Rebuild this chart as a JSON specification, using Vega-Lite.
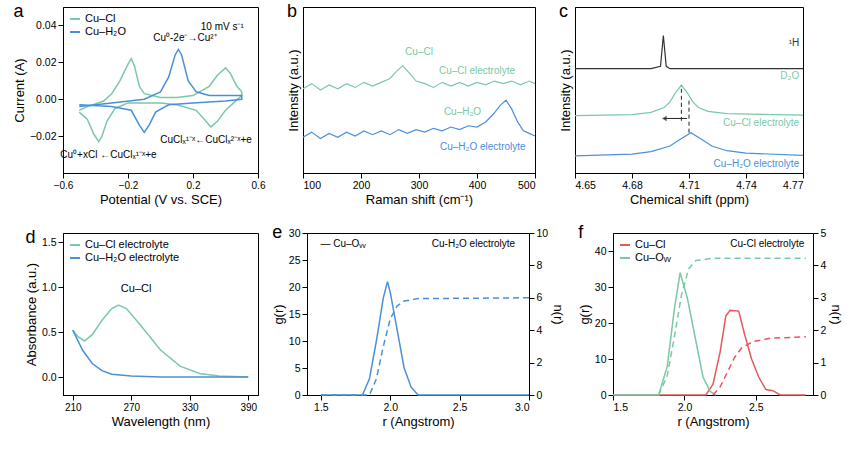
{
  "$schema": "https://vega.github.io/schema/vega-lite/v6.json",
  "background": "white",
  "padding": {"left": 12, "top": 2, "right": 5, "bottom": 0},
  "resolve": {"scale": {"color": "independent"}},
  "config": {
    "font": "Liberation Sans",
    "view": {"stroke": "black", "strokeWidth": 1},
    "axis": {"grid": false, "domainColor": "black", "tickColor": "black", "labelColor": "black", "titleColor": "black", "labelFontSize": 10.5, "titleFontSize": 13, "titleFontWeight": "normal", "titlePadding": 3},
    "title": {"anchor": "start", "frame": "bounds", "fontSize": 18, "fontWeight": "normal", "offset": -14},
    "text": {"font": "Liberation Sans", "fontSize": 10}
  },
  "datasets": {
    "cv": [
      {"s":"Cu–Cl","i":1,"x":-0.5,"y":-0.006},{"s":"Cu–Cl","i":2,"x":-0.45,"y":-0.004},{"s":"Cu–Cl","i":3,"x":-0.35,"y":-0.001},{"s":"Cu–Cl","i":4,"x":-0.3,"y":0.003},{"s":"Cu–Cl","i":5,"x":-0.25,"y":0.01},{"s":"Cu–Cl","i":6,"x":-0.2,"y":0.019},{"s":"Cu–Cl","i":7,"x":-0.18,"y":0.022},{"s":"Cu–Cl","i":8,"x":-0.16,"y":0.018},{"s":"Cu–Cl","i":9,"x":-0.13,"y":0.007},{"s":"Cu–Cl","i":10,"x":-0.1,"y":0.003},{"s":"Cu–Cl","i":11,"x":0,"y":0.001},{"s":"Cu–Cl","i":12,"x":0.1,"y":0.001},{"s":"Cu–Cl","i":13,"x":0.2,"y":0.002},{"s":"Cu–Cl","i":14,"x":0.3,"y":0.007},{"s":"Cu–Cl","i":15,"x":0.35,"y":0.013},{"s":"Cu–Cl","i":16,"x":0.4,"y":0.017},{"s":"Cu–Cl","i":17,"x":0.43,"y":0.014},{"s":"Cu–Cl","i":18,"x":0.47,"y":0.007},{"s":"Cu–Cl","i":19,"x":0.5,"y":0.004},
      {"s":"Cu–Cl","i":20,"x":0.5,"y":0.002},{"s":"Cu–Cl","i":21,"x":0.45,"y":-0.002},{"s":"Cu–Cl","i":22,"x":0.4,"y":-0.006},{"s":"Cu–Cl","i":23,"x":0.35,"y":-0.012},{"s":"Cu–Cl","i":24,"x":0.31,"y":-0.015},{"s":"Cu–Cl","i":25,"x":0.28,"y":-0.012},{"s":"Cu–Cl","i":26,"x":0.22,"y":-0.006},{"s":"Cu–Cl","i":27,"x":0.1,"y":-0.003},{"s":"Cu–Cl","i":28,"x":0,"y":-0.002},{"s":"Cu–Cl","i":29,"x":-0.2,"y":-0.002},{"s":"Cu–Cl","i":30,"x":-0.28,"y":-0.005},{"s":"Cu–Cl","i":31,"x":-0.33,"y":-0.012},{"s":"Cu–Cl","i":32,"x":-0.36,"y":-0.02},{"s":"Cu–Cl","i":33,"x":-0.38,"y":-0.023},{"s":"Cu–Cl","i":34,"x":-0.41,"y":-0.019},{"s":"Cu–Cl","i":35,"x":-0.45,"y":-0.011},{"s":"Cu–Cl","i":36,"x":-0.5,"y":-0.007},
      {"s":"Cu–H₂O","i":1,"x":-0.5,"y":-0.004},{"s":"Cu–H₂O","i":2,"x":-0.3,"y":-0.002},{"s":"Cu–H₂O","i":3,"x":-0.1,"y":0.0},{"s":"Cu–H₂O","i":4,"x":0,"y":0.004},{"s":"Cu–H₂O","i":5,"x":0.05,"y":0.012},{"s":"Cu–H₂O","i":6,"x":0.09,"y":0.024},{"s":"Cu–H₂O","i":7,"x":0.11,"y":0.027},{"s":"Cu–H₂O","i":8,"x":0.13,"y":0.024},{"s":"Cu–H₂O","i":9,"x":0.17,"y":0.01},{"s":"Cu–H₂O","i":10,"x":0.22,"y":0.004},{"s":"Cu–H₂O","i":11,"x":0.3,"y":0.002},{"s":"Cu–H₂O","i":12,"x":0.5,"y":0.002},{"s":"Cu–H₂O","i":13,"x":0.5,"y":0.0},{"s":"Cu–H₂O","i":14,"x":0.4,"y":-0.001},{"s":"Cu–H₂O","i":15,"x":0.2,"y":-0.002},{"s":"Cu–H₂O","i":16,"x":0.05,"y":-0.003},{"s":"Cu–H₂O","i":17,"x":-0.03,"y":-0.007},{"s":"Cu–H₂O","i":18,"x":-0.07,"y":-0.014},{"s":"Cu–H₂O","i":19,"x":-0.1,"y":-0.018},{"s":"Cu–H₂O","i":20,"x":-0.13,"y":-0.014},{"s":"Cu–H₂O","i":21,"x":-0.18,"y":-0.006},{"s":"Cu–H₂O","i":22,"x":-0.3,"y":-0.004},{"s":"Cu–H₂O","i":23,"x":-0.5,"y":-0.003}
    ],
    "raman": [
      {"s":"Cl","x":100,"y":0.66},{"s":"Cl","x":115,"y":0.7},{"s":"Cl","x":130,"y":0.65},{"s":"Cl","x":145,"y":0.69},{"s":"Cl","x":160,"y":0.66},{"s":"Cl","x":175,"y":0.7},{"s":"Cl","x":190,"y":0.67},{"s":"Cl","x":205,"y":0.71},{"s":"Cl","x":220,"y":0.68},{"s":"Cl","x":235,"y":0.71},{"s":"Cl","x":250,"y":0.74},{"s":"Cl","x":262,"y":0.8},{"s":"Cl","x":272,"y":0.84},{"s":"Cl","x":282,"y":0.79},{"s":"Cl","x":295,"y":0.72},{"s":"Cl","x":310,"y":0.7},{"s":"Cl","x":325,"y":0.67},{"s":"Cl","x":340,"y":0.71},{"s":"Cl","x":355,"y":0.68},{"s":"Cl","x":370,"y":0.71},{"s":"Cl","x":385,"y":0.68},{"s":"Cl","x":400,"y":0.71},{"s":"Cl","x":415,"y":0.69},{"s":"Cl","x":430,"y":0.72},{"s":"Cl","x":445,"y":0.7},{"s":"Cl","x":460,"y":0.72},{"s":"Cl","x":475,"y":0.69},{"s":"Cl","x":490,"y":0.72},{"s":"Cl","x":500,"y":0.7},
      {"s":"H","x":100,"y":0.28},{"s":"H","x":115,"y":0.32},{"s":"H","x":130,"y":0.27},{"s":"H","x":145,"y":0.31},{"s":"H","x":160,"y":0.28},{"s":"H","x":175,"y":0.32},{"s":"H","x":190,"y":0.29},{"s":"H","x":205,"y":0.33},{"s":"H","x":220,"y":0.3},{"s":"H","x":235,"y":0.33},{"s":"H","x":250,"y":0.3},{"s":"H","x":265,"y":0.34},{"s":"H","x":280,"y":0.31},{"s":"H","x":295,"y":0.34},{"s":"H","x":310,"y":0.32},{"s":"H","x":325,"y":0.35},{"s":"H","x":340,"y":0.33},{"s":"H","x":355,"y":0.36},{"s":"H","x":370,"y":0.34},{"s":"H","x":385,"y":0.37},{"s":"H","x":400,"y":0.36},{"s":"H","x":415,"y":0.4},{"s":"H","x":428,"y":0.46},{"s":"H","x":440,"y":0.53},{"s":"H","x":450,"y":0.57},{"s":"H","x":460,"y":0.5},{"s":"H","x":470,"y":0.4},{"s":"H","x":480,"y":0.33},{"s":"H","x":490,"y":0.31},{"s":"H","x":500,"y":0.29}
    ],
    "nmr": [
      {"s":"1H","x":4.65,"y":2.2},{"s":"1H","x":4.69,"y":2.2},{"s":"1H","x":4.695,"y":2.25},{"s":"1H","x":4.6965,"y":2.9},{"s":"1H","x":4.698,"y":2.25},{"s":"1H","x":4.70,"y":2.2},{"s":"1H","x":4.77,"y":2.2},
      {"s":"Cl","x":4.65,"y":1.21},{"s":"Cl","x":4.68,"y":1.23},{"s":"Cl","x":4.69,"y":1.28},{"s":"Cl","x":4.697,"y":1.38},{"s":"Cl","x":4.7,"y":1.5},{"s":"Cl","x":4.703,"y":1.7},{"s":"Cl","x":4.706,"y":1.85},{"s":"Cl","x":4.709,"y":1.7},{"s":"Cl","x":4.712,"y":1.5},{"s":"Cl","x":4.715,"y":1.38},{"s":"Cl","x":4.72,"y":1.3},{"s":"Cl","x":4.73,"y":1.25},{"s":"Cl","x":4.77,"y":1.22},
      {"s":"H","x":4.65,"y":0.36},{"s":"H","x":4.68,"y":0.4},{"s":"H","x":4.69,"y":0.45},{"s":"H","x":4.7,"y":0.57},{"s":"H","x":4.705,"y":0.7},{"s":"H","x":4.711,"y":0.85},{"s":"H","x":4.717,"y":0.7},{"s":"H","x":4.722,"y":0.57},{"s":"H","x":4.73,"y":0.47},{"s":"H","x":4.74,"y":0.42},{"s":"H","x":4.77,"y":0.37}
    ],
    "abs": [
      {"s":"Cu–Cl electrolyte","x":210,"y":0.52},{"s":"Cu–Cl electrolyte","x":215,"y":0.45},{"s":"Cu–Cl electrolyte","x":222,"y":0.4},{"s":"Cu–Cl electrolyte","x":230,"y":0.47},{"s":"Cu–Cl electrolyte","x":240,"y":0.63},{"s":"Cu–Cl electrolyte","x":250,"y":0.76},{"s":"Cu–Cl electrolyte","x":257,"y":0.8},{"s":"Cu–Cl electrolyte","x":265,"y":0.76},{"s":"Cu–Cl electrolyte","x":280,"y":0.57},{"s":"Cu–Cl electrolyte","x":300,"y":0.3},{"s":"Cu–Cl electrolyte","x":320,"y":0.12},{"s":"Cu–Cl electrolyte","x":340,"y":0.04},{"s":"Cu–Cl electrolyte","x":360,"y":0.01},{"s":"Cu–Cl electrolyte","x":390,"y":0.0},
      {"s":"Cu–H₂O electrolyte","x":210,"y":0.52},{"s":"Cu–H₂O electrolyte","x":220,"y":0.3},{"s":"Cu–H₂O electrolyte","x":230,"y":0.15},{"s":"Cu–H₂O electrolyte","x":240,"y":0.07},{"s":"Cu–H₂O electrolyte","x":250,"y":0.03},{"s":"Cu–H₂O electrolyte","x":270,"y":0.01},{"s":"Cu–H₂O electrolyte","x":300,"y":0.0},{"s":"Cu–H₂O electrolyte","x":390,"y":0.0}
    ],
    "ge": [
      {"x":1.5,"g":0},{"x":1.8,"g":0},{"x":1.85,"g":3},{"x":1.9,"g":10},{"x":1.95,"g":18},{"x":1.98,"g":21},{"x":2.0,"g":19},{"x":2.05,"g":12},{"x":2.1,"g":5},{"x":2.15,"g":1.5},{"x":2.2,"g":0},{"x":3.0,"g":0}
    ],
    "ne": [
      {"x":1.5,"n":0},{"x":1.85,"n":0},{"x":1.9,"n":1},{"x":1.95,"n":3},{"x":2.0,"n":4.7},{"x":2.05,"n":5.5},{"x":2.1,"n":5.8},{"x":2.2,"n":5.95},{"x":3.0,"n":6.0}
    ],
    "gf": [
      {"s":"Cu–Cl","x":1.5,"g":0},{"s":"Cu–Cl","x":2.15,"g":0},{"s":"Cu–Cl","x":2.2,"g":3},{"s":"Cu–Cl","x":2.25,"g":12},{"s":"Cu–Cl","x":2.29,"g":22},{"s":"Cu–Cl","x":2.32,"g":23.5},{"s":"Cu–Cl","x":2.38,"g":23.3},{"s":"Cu–Cl","x":2.42,"g":17},{"s":"Cu–Cl","x":2.47,"g":10},{"s":"Cu–Cl","x":2.52,"g":5},{"s":"Cu–Cl","x":2.57,"g":1.5},{"s":"Cu–Cl","x":2.62,"g":1.2},{"s":"Cu–Cl","x":2.67,"g":0},{"s":"Cu–Cl","x":2.85,"g":0},
      {"s":"Cu–Oᵥᵥ","x":1.5,"g":0},{"s":"Cu–Oᵥᵥ","x":1.82,"g":0},{"s":"Cu–Oᵥᵥ","x":1.88,"g":8},{"s":"Cu–Oᵥᵥ","x":1.93,"g":24},{"s":"Cu–Oᵥᵥ","x":1.97,"g":34},{"s":"Cu–Oᵥᵥ","x":2.02,"g":27},{"s":"Cu–Oᵥᵥ","x":2.08,"g":15},{"s":"Cu–Oᵥᵥ","x":2.13,"g":5},{"s":"Cu–Oᵥᵥ","x":2.18,"g":1},{"s":"Cu–Oᵥᵥ","x":2.22,"g":0}
    ],
    "nf": [
      {"s":"Cu–Cl","x":2.2,"n":0},{"s":"Cu–Cl","x":2.25,"n":0.25},{"s":"Cu–Cl","x":2.3,"n":0.7},{"s":"Cu–Cl","x":2.35,"n":1.15},{"s":"Cu–Cl","x":2.4,"n":1.45},{"s":"Cu–Cl","x":2.48,"n":1.65},{"s":"Cu–Cl","x":2.6,"n":1.75},{"s":"Cu–Cl","x":2.85,"n":1.8},
      {"s":"Cu–Oᵥᵥ","x":1.82,"n":0},{"s":"Cu–Oᵥᵥ","x":1.88,"n":0.6},{"s":"Cu–Oᵥᵥ","x":1.93,"n":1.8},{"s":"Cu–Oᵥᵥ","x":1.98,"n":3.1},{"s":"Cu–Oᵥᵥ","x":2.03,"n":3.9},{"s":"Cu–Oᵥᵥ","x":2.08,"n":4.15},{"s":"Cu–Oᵥᵥ","x":2.2,"n":4.22},{"s":"Cu–Oᵥᵥ","x":2.85,"n":4.22}
    ]
  },
  "spacing": 16,
  "vconcat": [
    {"spacing": 20, "resolve": {"scale": {"color": "independent"}}, "hconcat": [
      {"title": "a", "width": 195, "height": 166,
       "layer": [
         {"data": {"name": "cv"}, "mark": {"type": "line", "strokeWidth": 1.5},
          "encoding": {
            "x": {"field": "x", "type": "quantitative", "title": "Potential (V vs. SCE)", "scale": {"domain": [-0.6, 0.6]}, "axis": {"values": [-0.6,-0.4,-0.2,0,0.2,0.4,0.6], "format": ".1f", "labelFontSize": 10, "labelOverlap": false, "labelFlush": false}},
            "y": {"field": "y", "type": "quantitative", "title": "Current (A)", "scale": {"domain": [-0.035, 0.045]}, "axis": {"values": [-0.02,0,0.02,0.04], "format": ".2f"}},
            "order": {"field": "i"},
            "color": {"field": "s", "type": "nominal", "scale": {"domain": ["Cu–Cl","Cu–H₂O"], "range": ["#79c9a5","#4a90d9"]}, "legend": {"orient": "top-left", "title": null, "labelFontSize": 11, "symbolType": "stroke", "symbolStrokeWidth": 2, "padding": 2, "offset": 4}}
          }},
         {"data": {"values": [
           {"x":0.38,"y":0.039,"t":"10 mV s⁻¹"},
           {"x":0.15,"y":0.033,"t":"Cu⁰-2e⁻→Cu²⁺"},
           {"x":0.28,"y":-0.022,"t":"CuClₓ¹⁻ˣ←CuClₓ²⁻ˣ+e"},
           {"x":-0.32,"y":-0.03,"t":"Cu⁰+xCl ←CuClₓ¹⁻ˣ+e"}
          ]},
          "mark": {"type": "text", "fontSize": 10},
          "encoding": {"x": {"field": "x", "type": "quantitative"}, "y": {"field": "y", "type": "quantitative"}, "text": {"field": "t"}}}
       ]},
      {"title": "b", "width": 232, "height": 166,
       "layer": [
         {"data": {"name": "raman"}, "mark": {"type": "line", "strokeWidth": 1.2},
          "encoding": {
            "x": {"field": "x", "type": "quantitative", "title": "Raman shift (cm⁻¹)", "scale": {"domain": [100, 500]}, "axis": {"values": [100,200,300,400,500]}},
            "y": {"field": "y", "type": "quantitative", "title": "Intensity (a.u.)", "scale": {"domain": [0, 1.3]}, "axis": {"labels": false, "ticks": false}},
            "color": {"field": "s", "type": "nominal", "scale": {"domain": ["Cl","H"], "range": ["#79c9a5","#4a90d9"]}, "legend": null}
          }},
         {"data": {"values": [
           {"x":400,"y":0.8,"t":"Cu–Cl electrolyte","c":"Cl"},
           {"x":410,"y":0.2,"t":"Cu–H₂O electrolyte","c":"H"},
           {"x":300,"y":0.95,"t":"Cu–Cl","c":"k"},
           {"x":375,"y":0.48,"t":"Cu–H₂O","c":"k"}
          ]},
          "mark": {"type": "text", "fontSize": 10},
          "encoding": {"x": {"field": "x", "type": "quantitative"}, "y": {"field": "y", "type": "quantitative"}, "text": {"field": "t"},
            "color": {"field": "c", "type": "nominal", "scale": {"domain": ["Cl","H","k"], "range": ["#79c9a5","#4a90d9","#222222"]}, "legend": null}}}
       ]},
      {"title": "c", "width": 228, "height": 166,
       "layer": [
         {"data": {"name": "nmr"}, "mark": {"type": "line", "strokeWidth": 1.2},
          "encoding": {
            "x": {"field": "x", "type": "quantitative", "title": "Chemical shift (ppm)", "scale": {"domain": [4.65, 4.77]}, "axis": {"values": [4.65,4.68,4.71,4.74,4.77], "format": ".2f"}},
            "y": {"field": "y", "type": "quantitative", "title": "Intensity (a.u.)", "scale": {"domain": [0, 3.05]}, "axis": {"labels": false, "ticks": false}},
            "color": {"field": "s", "type": "nominal", "scale": {"domain": ["1H","Cl","H"], "range": ["#333333","#79c9a5","#4a90d9"]}, "legend": null}
          }},
         {"data": {"values": [{"x":4.706,"y":1.1,"y2":1.85},{"x":4.71,"y":0.85,"y2":1.55}]},
          "mark": {"type": "rule", "strokeDash": [4,3], "color": "#222"},
          "encoding": {"x": {"field": "x", "type": "quantitative"}, "y": {"field": "y", "type": "quantitative"}, "y2": {"field": "y2"}}},
         {"data": {"values": [{"x":4.709,"x2":4.697,"y":1.15}]},
          "mark": {"type": "rule", "color": "#222"},
          "encoding": {"x": {"field": "x", "type": "quantitative"}, "x2": {"field": "x2"}, "y": {"field": "y", "type": "quantitative"}}},
         {"data": {"values": [{"x":4.697,"y":1.15}]},
          "mark": {"type": "point", "shape": "triangle-left", "filled": true, "size": 30, "color": "#222"},
          "encoding": {"x": {"field": "x", "type": "quantitative"}, "y": {"field": "y", "type": "quantitative"}}},
         {"data": {"values": [
           {"x":4.768,"y":2.75,"t":"¹H","c":"k"},
           {"x":4.768,"y":2.05,"t":"D₂O","c":"g"},
           {"x":4.768,"y":1.05,"t":"Cu–Cl electrolyte","c":"Cl"},
           {"x":4.768,"y":0.2,"t":"Cu–H₂O electrolyte","c":"H"}
          ]},
          "mark": {"type": "text", "fontSize": 10, "align": "right"},
          "encoding": {"x": {"field": "x", "type": "quantitative"}, "y": {"field": "y", "type": "quantitative"}, "text": {"field": "t"},
            "color": {"field": "c", "type": "nominal", "scale": {"domain": ["k","g","Cl","H"], "range": ["#222222","#777777","#79c9a5","#4a90d9"]}, "legend": null}}}
       ]}
    ]},
    {"spacing": 12, "resolve": {"scale": {"color": "independent"}}, "hconcat": [
      {"title": "d", "width": 195, "height": 162,
       "layer": [
         {"data": {"name": "abs"}, "mark": {"type": "line", "strokeWidth": 1.5},
          "encoding": {
            "x": {"field": "x", "type": "quantitative", "title": "Wavelength (nm)", "scale": {"domain": [210, 390]}, "axis": {"values": [210,240,270,300,330,360,390], "labelFontSize": 10, "labelOverlap": false, "labelFlush": false}},
            "y": {"field": "y", "type": "quantitative", "title": "Absorbance (a.u.)", "scale": {"domain": [-0.15, 1.5]}, "axis": {"values": [0,0.5,1,1.5], "format": ".1f"}},
            "color": {"field": "s", "type": "nominal", "scale": {"domain": ["Cu–Cl electrolyte","Cu–H₂O electrolyte"], "range": ["#79c9a5","#4a90d9"]}, "legend": {"orient": "top-left", "title": null, "labelFontSize": 11, "symbolType": "stroke", "symbolStrokeWidth": 2, "padding": 2, "offset": 4}}
          }},
         {"data": {"values": [{"x":275,"y":0.98,"t":"Cu–Cl"}]},
          "mark": {"type": "text", "fontSize": 11},
          "encoding": {"x": {"field": "x", "type": "quantitative"}, "y": {"field": "y", "type": "quantitative"}, "text": {"field": "t"}}}
       ]},
      {"title": "e", "width": 222, "height": 162,
       "resolve": {"scale": {"y": "independent"}},
       "layer": [
         {"data": {"name": "ge"}, "mark": {"type": "line", "strokeWidth": 1.5, "color": "#4a90d9"},
          "encoding": {
            "x": {"field": "x", "type": "quantitative", "title": "r (Angstrom)", "scale": {"domain": [1.5, 3.0]}, "axis": {"values": [1.5,2,2.5,3], "format": ".1f"}},
            "y": {"field": "g", "type": "quantitative", "title": "g(r)", "scale": {"domain": [0, 30]}, "axis": {"values": [0,5,10,15,20,25,30]}}
          }},
         {"data": {"name": "ne"}, "mark": {"type": "line", "strokeWidth": 1.5, "strokeDash": [6,4], "color": "#4a90d9"},
          "encoding": {
            "x": {"field": "x", "type": "quantitative"},
            "y": {"field": "n", "type": "quantitative", "title": "n(r)", "scale": {"domain": [0, 10]}, "axis": {"orient": "right", "values": [0,2,4,6,8,10]}}
          }},
         {"data": {"values": [{"x":2.6,"y":28,"t":"Cu-H₂O electrolyte"},{"x":1.66,"y":28,"t":"— Cu–Oᵥᵥ"}]},
          "mark": {"type": "text", "fontSize": 10},
          "encoding": {"x": {"field": "x", "type": "quantitative"}, "y": {"field": "y", "type": "quantitative", "scale": {"domain": [0, 30]}, "axis": null}, "text": {"field": "t"}}}
       ]},
      {"title": "f", "width": 200, "height": 162,
       "resolve": {"scale": {"y": "independent"}},
       "layer": [
         {"data": {"name": "gf"}, "mark": {"type": "line", "strokeWidth": 1.5},
          "encoding": {
            "x": {"field": "x", "type": "quantitative", "title": "r (Angstrom)", "scale": {"domain": [1.5, 2.85]}, "axis": {"values": [1.5,2,2.5], "format": ".1f"}},
            "y": {"field": "g", "type": "quantitative", "title": "g(r)", "scale": {"domain": [0, 45]}, "axis": {"values": [0,10,20,30,40]}},
            "color": {"field": "s", "type": "nominal", "scale": {"domain": ["Cu–Cl","Cu–Oᵥᵥ"], "range": ["#e8585a","#79c9a5"]}, "legend": {"orient": "top-left", "title": null, "labelFontSize": 11, "symbolType": "stroke", "symbolStrokeWidth": 2, "padding": 2, "offset": 4}}
          }},
         {"data": {"name": "nf"}, "mark": {"type": "line", "strokeWidth": 1.5, "strokeDash": [6,4]},
          "encoding": {
            "x": {"field": "x", "type": "quantitative"},
            "y": {"field": "n", "type": "quantitative", "title": "n(r)", "scale": {"domain": [0, 5]}, "axis": {"orient": "right", "values": [0,1,2,3,4,5]}},
            "color": {"field": "s", "type": "nominal", "legend": null}
          }},
         {"data": {"values": [{"x":2.58,"y":42,"t":"Cu-Cl electrolyte"}]},
          "mark": {"type": "text", "fontSize": 10},
          "encoding": {"x": {"field": "x", "type": "quantitative"}, "y": {"field": "y", "type": "quantitative", "scale": {"domain": [0, 45]}, "axis": null}, "text": {"field": "t"}}}
       ]}
    ]}
  ]
}
